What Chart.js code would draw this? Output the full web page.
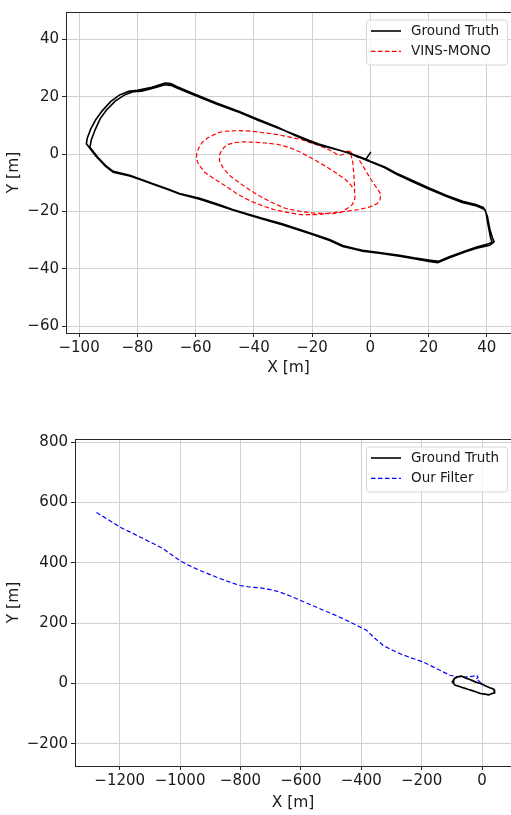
<!DOCTYPE html>
<html><head><meta charset="utf-8">
<script src="https://cdn.jsdelivr.net/npm/chart.js@4.4.1/dist/chart.umd.min.js"></script>
<style>
html,body{margin:0;padding:0;background:#fff;}
canvas{position:absolute;left:0;}
#c1{top:0;width:511px;height:380px;}
#c2{top:400px;width:511px;height:415px;}
</style></head><body>
<canvas id="c1" width="511" height="380"></canvas>
<canvas id="c2" width="511" height="415"></canvas>
<script>
// ---------- Ground truth trajectory (two laps) ----------
const gtX = [0.2,-1.6,4.8,8.8,14.5,20.2,26,31.7,36.2,38.8,39.7,40.3,41.3,41.8,40.6,36.5,32.8,27.1,23.5,20.6,15,10,3,-2.7,-5,-9.5,-14,-20.9,-30,-38,-41.5,-47.3,-52,-58.6,-65.5,-70,-74.6,-78.6,-82.6,-88.3,-90.5,-93.5,-96.3,-95.8,-94.5,-92.8,-90.6,-87.6,-84.5,-81.5,-78.6,-74.6,-70.5,-68.5,-66,-59.7,-52.9,-44.9,-38.6,-32,-26,-22,-18,-12.5,-7.8,-1.9,
  4.8,9,14.5,20,26,31.5,36.5,39.3,40.2,41,41.9,42.5,41,36.5,32.5,27,23.1,20.2,15,10,3,-2.7,-5,-9.5,-14,-20.9,-30,-38,-41.5,-47.3,-52,-58.6,-65.5,-70,-74.6,-78.6,-82.6,-88.3,-91,-94.3,-97.5,-97.2,-96,-94.3,-92,-89.2,-86.2,-83,-80,-75,-70.5,-68.5,-66.5,-60,-53,-45,-38.6,-32,-26,-21.5,-17,-12,-7.8,-3,0];
const gtY = [0.8,-1.9,-4.4,-6.6,-9.2,-11.8,-14.3,-16.4,-17.6,-18.6,-20.3,-24,-29.3,-30.7,-31.3,-32.4,-33.7,-35.8,-37.4,-37,-36.2,-35.3,-34.3,-33.5,-33,-31.9,-29.8,-27.4,-24.4,-22.1,-21.1,-19.3,-17.6,-15.4,-13.7,-12,-10.3,-8.8,-7.4,-6,-4.3,-1.2,2.4,5,8.5,12.3,15.4,18.5,20.6,21.8,22,23,24.2,24,22.9,20.3,17.5,14.5,11.8,9.2,6.9,5.2,3.6,2,0.5,-1.9,
  -4.7,-7,-9.6,-12.2,-14.7,-16.9,-18.1,-19.3,-21.7,-26,-29.1,-30.6,-31.8,-32.8,-34.1,-36.2,-37.9,-37.4,-36.5,-35.6,-34.6,-33.9,-33.3,-32.2,-30.1,-27.7,-24.7,-22.4,-21.3,-19.5,-17.9,-15.7,-13.9,-12.2,-10.5,-9,-7.6,-6.3,-4.2,-0.6,3.6,5.6,8.8,12,15.2,18.3,20.6,21.9,22.3,23.3,24.8,24.6,23.6,20.8,17.9,14.9,12.2,9.5,6.6,4.6,3,1.7,0.6,-1.2,-2.4];

// ---------- VINS-MONO estimate ----------
const vinsX = [-7.2,-6.1,-4.4,-2.3,-0.3,1.8,3.6,3.3,2.3,-0.4,-4,-8,-11.2,-15,-18,-23.8,-28,-32.9,-36.5,-40.9,-45.5,-50,-53.8,-56.9,-59,-59.7,-59.6,-59,-57.8,-55.8,-52.5,-50,-45,-40.9,-36,-31.8,-28,-23.8,-19.5,-15.7,-12.5,-10.6,-9,-7.8,-6.8,-6,-5.6,-5.4,-5.3,-6.2,-7.7,-10,-13,-20,-25,-29.5,-34,-38.6,-43,-47.7,-50.5,-51.8,-51.8,-51.2,-50.2,-48.9,-46.6,-43.5,-40.9,-36,-31.8,-27.5,-23.8,-18.6,-15.7,-12,-8.8,-6.8,-5.4];
const vinsY = [1.1,0,-1,-4.5,-8,-11.2,-13.9,-16,-17.3,-18.5,-19.3,-19.9,-20.2,-20.7,-21.1,-21.1,-20.4,-19.4,-18.2,-16.5,-14,-10.9,-8.5,-6.3,-3.5,-1.7,0.2,2,4,5.7,7.4,8,8.2,8,7.4,6.8,6,5.1,3.6,2.3,0.6,-0.5,0.1,1.1,0.6,-3,-8,-12.6,-15.5,-17.6,-18.8,-20.3,-20.8,-20.5,-19.8,-18.8,-16.8,-14.3,-11.4,-8,-5,-2.3,-0.3,1.1,2.4,3.4,4,4.3,4.2,3.9,3.4,2.2,0.6,-2.3,-4,-6.4,-8.6,-10.6,-12.6];

// ---------- Our Filter estimate ----------
const filterX = [-1277,-1240,-1200,-1165,-1133,-1095,-1056,-1034,-1001,-970,-935,-900,-868,-835,-802,-770,-736,-700,-669,-635,-603,-570,-537,-492,-448,-404,-382,-355,-327,-300,-272,-235,-195,-150,-106,-85,-62,-45,-29,-18,-13,-20,-12,-4,4];
const filterY = [567,545,519,502,486,467,447,431,408,391,375,361,348,336,325,320,317,311,303,290,276,262,248,229,209,187,176,150,126,112,99,85,71,49,27,23,21,22,24,27,20,14,10,2,-6];

// ---------- Axis ranges and ticks ----------
const top_xRange = [-104.5, 48.3];
const top_yRange = [-62.4, 49.6];
const top_xTicks = [-100,-80,-60,-40,-20,0,20,40];
const top_yTicks = [-60,-40,-20,0,20,40];
const bot_xRange = [-1348, 96];
const bot_yRange = [-274, 811];
const bot_xTicks = [-1200,-1000,-800,-600,-400,-200,0];
const bot_yTicks = [-200,0,200,400,600,800];
const labelsTop = ['Ground Truth', 'VINS-MONO'];
const labelsBot = ['Ground Truth', 'Our Filter'];

const FONT = "'DejaVu Sans', sans-serif";
const pts = (xs, ys) => xs.map((x, i) => ({x: x, y: ys[i]}));
const fmt = v => (v < 0 ? '\u2212' + Math.abs(v) : String(v));

const framePlugin = {
  id: 'frame',
  afterDatasetsDraw(chart) {
    const {ctx, chartArea: a} = chart;
    ctx.save();
    ctx.strokeStyle = '#262626';
    ctx.lineWidth = 1;
    ctx.beginPath();
    ctx.moveTo(a.left, a.top + 0.5); ctx.lineTo(a.right, a.top + 0.5);
    ctx.stroke();
    ctx.restore();
  }
};

const legendPlugin = {
  id: 'mplLegend',
  afterDraw(chart) {
    const {ctx, chartArea: a} = chart;
    const items = chart.data.datasets.filter(d => d.inLegend);
    const w = 141, h = 45;
    const bx = a.right - 4 - w, by = a.top + 7.5;
    ctx.save();
    ctx.fillStyle = 'rgba(255,255,255,0.8)';
    ctx.strokeStyle = '#d6d6d6';
    ctx.lineWidth = 1;
    ctx.beginPath();
    ctx.roundRect(bx + 0.5, by + 0.5, w, h, 3);
    ctx.fill(); ctx.stroke();
    items.forEach((d, i) => {
      const y = by + 11.5 + i * 20.3;
      ctx.strokeStyle = d.borderColor;
      ctx.lineWidth = d.borderWidth;
      ctx.setLineDash(d.borderDash || []);
      ctx.beginPath();
      ctx.moveTo(bx + 5, y); ctx.lineTo(bx + 35, y);
      ctx.stroke();
      ctx.setLineDash([]);
      ctx.fillStyle = '#1a1a1a';
      ctx.font = '13.5px ' + FONT;
      ctx.textBaseline = 'middle';
      ctx.fillText(d.label, bx + 45, y + 0.5);
    });
    ctx.restore();
  }
};

function makeChart(id, datasets, xr, yr, xt, yt, yWidth, xHeight, padTop) {
  const tickFont = {family: FONT, size: 15};
  const titleFont = {family: FONT, size: 15.5};
  return new Chart(document.getElementById(id), {
    type: 'scatter',
    data: {datasets: datasets},
    plugins: [framePlugin, legendPlugin],
    options: {
      responsive: false, animation: false, devicePixelRatio: 1, events: [],
      layout: {padding: {top: padTop, right: 0, left: 0, bottom: 0}},
      plugins: {legend: {display: false}, tooltip: {enabled: false}},
      elements: {point: {radius: 0}, line: {tension: 0}},
      scales: {
        x: {
          type: 'linear', min: xr[0], max: xr[1],
          afterBuildTicks: s => { s.ticks = xt.map(v => ({value: v})); },
          afterFit: s => { s.height = xHeight; },
          ticks: {font: tickFont, color: '#1a1a1a', padding: 2, maxRotation: 0, autoSkip: false, callback: fmt},
          grid: {color: '#d0d0d0', lineWidth: 1, tickColor: '#262626', tickLength: 4},
          border: {color: '#262626', width: 1},
          title: {display: true, text: 'X [m]', font: titleFont, color: '#1a1a1a', padding: {top: 0, bottom: 3}}
        },
        y: {
          type: 'linear', min: yr[0], max: yr[1],
          afterBuildTicks: s => { s.ticks = yt.map(v => ({value: v})); },
          afterFit: s => { s.width = yWidth; },
          ticks: {font: tickFont, color: '#1a1a1a', padding: 3, autoSkip: false, callback: fmt},
          grid: {color: '#d0d0d0', lineWidth: 1, tickColor: '#262626', tickLength: 4},
          border: {color: '#262626', width: 1},
          title: {display: true, text: 'Y [m]', font: titleFont, color: '#1a1a1a', padding: {top: 5, bottom: 0}}
        }
      }
    }
  });
}

const gtStyle = {borderColor: '#000000', borderWidth: 1.6, showLine: true, pointRadius: 0, fill: false};

makeChart('c1', [
  Object.assign({label: labelsTop[0], data: pts(gtX, gtY), inLegend: true}, gtStyle),
  {label: labelsTop[1], data: pts(vinsX, vinsY), inLegend: true, borderColor: '#ff0000', borderWidth: 1.2,
   borderDash: [4.5, 2.5], showLine: true, pointRadius: 0, fill: false}
], top_xRange, top_yRange, top_xTicks, top_yTicks, 66, 47, 5);

makeChart('c2', [
  Object.assign({label: labelsBot[0], data: pts(gtX, gtY), inLegend: true}, gtStyle),
  {label: labelsBot[1], data: pts(filterX, filterY), inLegend: true, borderColor: '#0000ff', borderWidth: 1.2,
   borderDash: [4.5, 2.5], showLine: true, pointRadius: 0, fill: false}
], bot_xRange, bot_yRange, bot_xTicks, bot_yTicks, 75, 49, 39);
</script>
</body></html>
